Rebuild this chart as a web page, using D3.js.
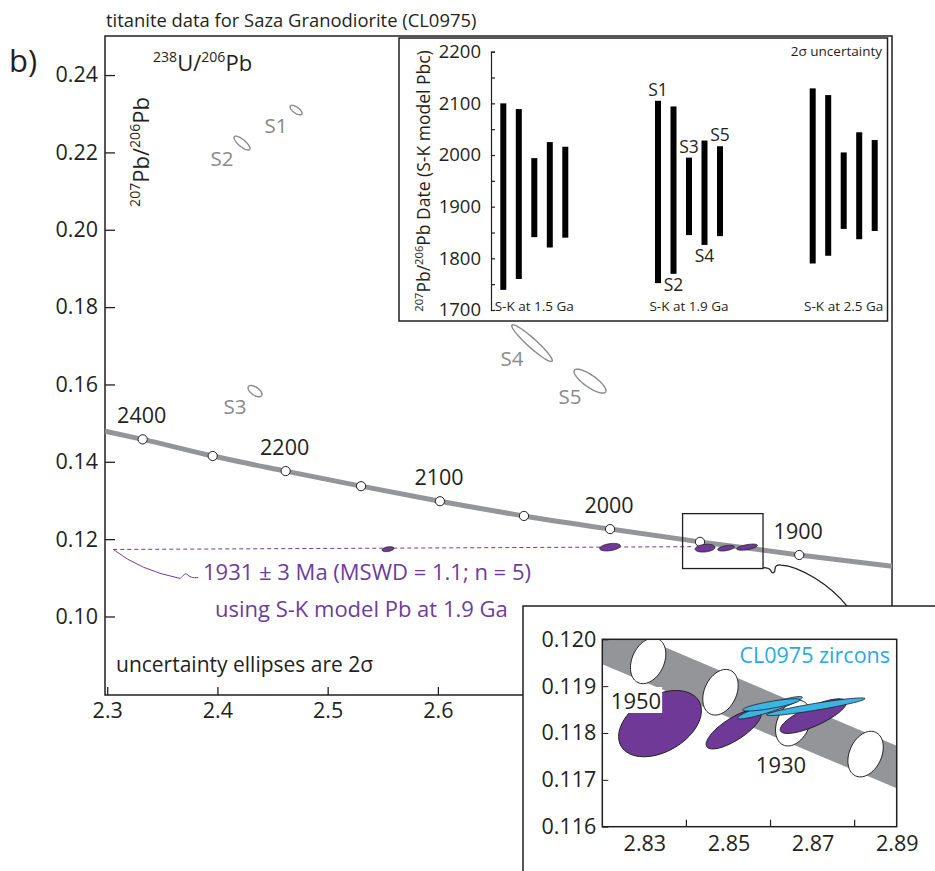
<!DOCTYPE html>
<html>
<head>
<meta charset="utf-8">
<script src="https://cdn.jsdelivr.net/npm/d3@7"></script>
<style>
  body { margin: 0; background: #fff; }
  svg { display: block; font-family: 'Open Sans', sans-serif; }
</style>
</head>
<body>
<div id="container"></div>
<script>
// ---- data ----
// (2.7 and up sit under the zoom inset, so they are not labelled)
var xTicks = [2.3, 2.4, 2.5, 2.6];
var yTicks = [0.10, 0.12, 0.14, 0.16, 0.18, 0.20, 0.22, 0.24];

// concordia age marks (Ma) and their ratios as drawn on the main plot
var concordiaAges = [2300, 2250, 2200, 2150, 2100, 2050, 2000, 1950, 1900];
var concordiaX = [2.3322, 2.3957, 2.4619, 2.5303, 2.6019, 2.6781, 2.7562, 2.8378, 2.9278];
var concordiaY = [0.1458, 0.1415, 0.1376, 0.1337, 0.1298, 0.1260, 0.1226, 0.1193, 0.1159];
var concordiaEndX = [2.298, 3.012];
var concordiaEndY = [0.1479, 0.1130];
var concordiaLabelAges = [2300, 2200, 2100, 2000, 1900];
var concordiaLabelText = ['2400', '2200', '2100', '2000', '1900'];

// uncorrected titanite analyses (grey)
var rawTitanite = [
  { id: 'S1', x: 2.4713, y: 0.23095, sx: 0.00543, sy: 0.00122, rho: -0.67 },
  { id: 'S2', x: 2.4223, y: 0.22241, sx: 0.00724, sy: 0.00180, rho: -0.78 },
  { id: 'S3', x: 2.4341, y: 0.15827, sx: 0.00630, sy: 0.00146, rho: -0.58 },
  { id: 'S4', x: 2.6854, y: 0.17069, sx: 0.01840, sy: 0.00475, rho: -0.945 },
  { id: 'S5', x: 2.7380, y: 0.16086, sx: 0.01446, sy: 0.00309, rho: -0.80 }
];

// common-Pb corrected titanite (purple), main plot
var corrTitanite = [
  { x: 2.5548, y: 0.11741, sx: 0.00537, sy: 0.000644, rho: 0.36 },
  { x: 2.7562, y: 0.11793, sx: 0.00944, sy: 0.000973, rho: 0.35 },
  { x: 2.8424, y: 0.11767, sx: 0.00903, sy: 0.00101, rho: 0.23 },
  { x: 2.8614, y: 0.11767, sx: 0.00760, sy: 0.000742, rho: 0.47 },
  { x: 2.8805, y: 0.11793, sx: 0.00939, sy: 0.000791, rho: 0.56 }
];
var isochronX = [2.3055, 2.8315];
var isochronY = [0.11733, 0.11805];
var zoomBoxX = [2.822, 2.895];
var zoomBoxY = [0.1124, 0.1266];

// zoomed inset (bottom right)
var insetXTicks = [2.83, 2.85, 2.87, 2.89];
var insetXMinor = [2.84, 2.86, 2.88];
var insetYTicks = [0.116, 0.117, 0.118, 0.119, 0.120];
var bandUpper = [[2.82, 0.12040], [2.89, 0.11773]];
var bandLower = [[2.82, 0.11947], [2.89, 0.11682]];
var insetAgeMarks = [
  { age: 1950, x: 2.8309, y: 0.11954, sx: 0.00421, sy: 0.000487, rho: 0.30 },
  { age: 1940, x: 2.8481, y: 0.11887, sx: 0.00421, sy: 0.000487, rho: 0.30 },
  { age: 1930, x: 2.8654, y: 0.11821, sx: 0.00421, sy: 0.000487, rho: 0.30 },
  { age: 1920, x: 2.8826, y: 0.11755, sx: 0.00421, sy: 0.000487, rho: 0.30 }
];
var insetTitanite = [
  { x: 2.83372, y: 0.11820, sx: 0.00984, sy: 0.000707, rho: 0.39 },
  { x: 2.85124, y: 0.11808, sx: 0.00654, sy: 0.000420, rho: 0.76 },
  { x: 2.87017, y: 0.11836, sx: 0.00787, sy: 0.000369, rho: 0.78 }
];
var zircons = [
  { x: 2.85987, y: 0.11854, sx: 0.00770, sy: 0.000239, rho: 0.92 },
  { x: 2.86018, y: 0.11860, sx: 0.00679, sy: 0.000130, rho: 0.81 },
  { x: 2.87076, y: 0.11856, sx: 0.01173, sy: 0.000189, rho: 0.92 }
];

// 207Pb/206Pb dates with S-K model common Pb (inset, top right)
var skGroups = ['S-K at 1.5 Ga', 'S-K at 1.9 Ga', 'S-K at 2.5 Ga'];
var samples = ['S1', 'S2', 'S3', 'S4', 'S5'];
var dateLow = [[1739, 1760, 1841, 1821, 1840], [1752, 1770, 1845, 1826, 1843], [1790, 1805, 1857, 1837, 1853]];
var dateHigh = [[2100, 2089, 1994, 2025, 2016], [2105, 2094, 1995, 2028, 2017], [2129, 2116, 2005, 2044, 2029]];
var dateTicks = d3.range(1700, 2201, 50);
var sampleLabelBelow = [false, true, false, true, false];

// ---- drawing ----
var ink = '#231f20', purple = '#6e3997', purpleText = '#6c3d9c', grey = '#939598', greyText = '#8a8a8a';

var svg = d3.select('#container').append('svg')
  .attr('width', 935)
  .attr('height', 871);

var x = d3.scaleLinear().domain([2.298, 3.012]).range([105, 892]);
var y = d3.scaleLinear().domain([0.0797, 0.2501]).range([695, 36]);

var ellipsePath = function(d, sx, sy) {
  var pts = d3.range(72).map(function(i) {
    var t = i / 72 * 2 * Math.PI;
    var c = Math.cos(t), s = Math.sin(t);
    return [sx(d.x + d.sx * c), sy(d.y + d.sy * (d.rho * c + Math.sqrt(1 - d.rho * d.rho) * s))];
  });
  return d3.line().curve(d3.curveLinearClosed)(pts);
};

// text with superscripts: parts starting with ^ are raised
var supText = function(sel, parts, size) {
  var shift = 0;
  parts.forEach(function(p) {
    var sup = p.charAt(0) === '^';
    var target = sup ? -size * 0.4 : 0;
    sel.append('tspan')
      .attr('font-size', sup ? size * 0.64 : size)
      .attr('dy', target - shift)
      .text(sup ? p.slice(1) : p);
    shift = target;
  });
};

var defs = svg.append('defs');
defs.append('clipPath').attr('id', 'main-clip').append('rect')
  .attr('x', 105).attr('y', 36).attr('width', 787).attr('height', 659);

svg.append('text')
  .attr('x', 106).attr('y', 27)
  .attr('font-size', 18.4)
  .attr('fill', ink)
  .text('titanite data for Saza Granodiorite (CL0975)');

svg.append('text')
  .attr('x', 9).attr('y', 72)
  .attr('font-size', 31)
  .attr('fill', ink)
  .text('b)');

// axes
var xAxis = svg.append('g')
  .attr('transform', 'translate(0,695)')
  .call(d3.axisBottom(x).tickValues(xTicks).tickSize(-8).tickPadding(8).tickFormat(d3.format('.1f')));
var yAxis = svg.append('g')
  .attr('transform', 'translate(105,0)')
  .call(d3.axisLeft(y).tickValues(yTicks).tickSize(-10).tickPadding(7).tickFormat(d3.format('.2f')));
[xAxis, yAxis].forEach(function(a) {
  a.select('.domain').remove();
  a.attr('font-family', null).attr('font-size', 21.5).attr('color', ink);
  a.selectAll('line').attr('stroke-width', 1.3);
});

svg.append('rect')
  .attr('x', 105).attr('y', 36).attr('width', 787).attr('height', 659)
  .attr('fill', 'none').attr('stroke', ink).attr('stroke-width', 1.5);

var plot = svg.append('g').attr('clip-path', 'url(#main-clip)');

// concordia
var concPts = [[concordiaEndX[0], concordiaEndY[0]]]
  .concat(concordiaX.map(function(v, i) { return [v, concordiaY[i]]; }))
  .concat([[concordiaEndX[1], concordiaEndY[1]]]);
plot.append('path')
  .attr('d', d3.line().curve(d3.curveMonotoneX).x(function(d) { return x(d[0]); }).y(function(d) { return y(d[1]); })(concPts))
  .attr('fill', 'none').attr('stroke', grey).attr('stroke-width', 5);

// isochron
plot.append('line')
  .attr('x1', x(isochronX[0])).attr('y1', y(isochronY[0]))
  .attr('x2', x(isochronX[1])).attr('y2', y(isochronY[1]))
  .attr('stroke', purpleText).attr('stroke-width', 1).attr('stroke-dasharray', '4,3');

plot.selectAll('.conc-mark')
  .data(concordiaX)
  .enter()
  .append('circle')
  .attr('class', 'conc-mark')
  .attr('cx', function(d) { return x(d); })
  .attr('cy', function(d, i) { return y(concordiaY[i]); })
  .attr('r', 4.6)
  .attr('fill', '#fff').attr('stroke', ink).attr('stroke-width', 1);

plot.selectAll('.corr')
  .data(corrTitanite)
  .enter()
  .append('path')
  .attr('class', 'corr')
  .attr('d', function(d) { return ellipsePath(d, x, y); })
  .attr('fill', purple).attr('stroke', ink).attr('stroke-width', 0.8);

plot.selectAll('.raw')
  .data(rawTitanite)
  .enter()
  .append('path')
  .attr('class', 'raw')
  .attr('d', function(d) { return ellipsePath(d, x, y); })
  .attr('fill', 'none').attr('stroke', greyText).attr('stroke-width', 1.4);

plot.selectAll('.raw-label')
  .data(rawTitanite)
  .enter()
  .append('text')
  .attr('class', 'raw-label')
  .attr('x', function(d) { return x(d.x) - 20; })
  .attr('y', function(d) { return y(d.y) + 23; })
  .attr('text-anchor', 'middle')
  .attr('font-size', 20.5)
  .attr('fill', greyText)
  .text(function(d) { return d.id; });

plot.selectAll('.conc-label')
  .data(concordiaLabelAges)
  .enter()
  .append('text')
  .attr('class', 'conc-label')
  .attr('x', function(d) { return x(concordiaX[concordiaAges.indexOf(d)]) - 1; })
  .attr('y', function(d) { return y(concordiaY[concordiaAges.indexOf(d)]) - 16; })
  .attr('text-anchor', 'middle')
  .attr('font-size', 21.5)
  .attr('fill', ink)
  .text(function(d, i) { return concordiaLabelText[i]; });

// zoom box + connector
var bx0 = x(zoomBoxX[0]), bx1 = x(zoomBoxX[1]), by0 = y(zoomBoxY[1]), by1 = y(zoomBoxY[0]);
plot.append('rect')
  .attr('x', bx0).attr('y', by0).attr('width', bx1 - bx0).attr('height', by1 - by0)
  .attr('fill', 'none').attr('stroke', ink).attr('stroke-width', 1.3);
plot.append('path')
  .attr('d', 'M' + bx1 + ',' + (by1 - 1) + ' c4,0 7,0.5 8,3.5 c1,3 4,2 4,-2 c0,-3 2,-4.5 6,-4 c19,1 49,20 66,41')
  .attr('fill', 'none').attr('stroke', ink).attr('stroke-width', 1.3);

// age annotation
var ax = x(isochronX[0]), ay = y(isochronY[0]);
plot.append('path')
  .attr('d', 'M' + ax + ',' + ay + ' q27,21 67,29 c3,-3 5,-6 7,-4 s5,4 11,3')
  .attr('fill', 'none').attr('stroke', purpleText).attr('stroke-width', 1);
svg.append('text')
  .attr('x', 203).attr('y', 580)
  .attr('font-size', 22)
  .attr('fill', purpleText)
  .text('1931 \u00b1 3 Ma (MSWD = 1.1; n = 5)');
svg.append('text')
  .attr('x', 215).attr('y', 617)
  .attr('font-size', 22)
  .attr('fill', purpleText)
  .text('using S-K model Pb at 1.9 Ga');

svg.append('text')
  .attr('x', 116).attr('y', 672)
  .attr('font-size', 21)
  .attr('fill', ink)
  .text('uncertainty ellipses are 2\u03c3');

var xt = svg.append('text').attr('x', 153).attr('y', 71).attr('fill', ink);
supText(xt, ['^238', 'U/', '^206', 'Pb'], 22);
var yt = svg.append('text').attr('transform', 'translate(149,152) rotate(-90)').attr('text-anchor', 'middle').attr('fill', ink);
supText(yt, ['^207', 'Pb/', '^206', 'Pb'], 22);

// ---- inset: 207Pb/206Pb dates ----
var dateInset = svg.append('g');
dateInset.append('rect')
  .attr('x', 399).attr('y', 38).attr('width', 488.5).attr('height', 283)
  .attr('fill', '#fff').attr('stroke', ink).attr('stroke-width', 1.5);

var dY = d3.scaleLinear().domain([1700, 2200]).range([310, 51.7]);
var gX = d3.scalePoint().domain(skGroups).range([534.3, 843.7]);
var sX = d3.scalePoint().domain(samples).range([-31, 31]);

var dAxis = dateInset.append('g')
  .attr('transform', 'translate(491,0)')
  .call(d3.axisLeft(dY).tickValues(dateTicks).tickSize(-4).tickSizeOuter(-4).tickPadding(10)
    .tickFormat(function(d) { return d % 100 === 0 ? d : ''; }));
dAxis.attr('font-family', null).attr('font-size', 18.5).attr('color', ink);
dAxis.selectAll('line, path').attr('stroke-width', 1.2);

skGroups.forEach(function(g, gi) {
  dateInset.selectAll('.bar-' + gi)
    .data(samples)
    .enter()
    .append('rect')
    .attr('class', 'bar-' + gi)
    .attr('x', function(s) { return gX(g) + sX(s) - 3; })
    .attr('y', function(s, i) { return dY(dateHigh[gi][i]); })
    .attr('width', 6)
    .attr('height', function(s, i) { return dY(dateLow[gi][i]) - dY(dateHigh[gi][i]); })
    .attr('fill', '#000');
  dateInset.append('text')
    .attr('x', gX(g)).attr('y', 311)
    .attr('text-anchor', 'middle')
    .attr('font-size', 13.5)
    .attr('fill', ink)
    .text(g);
});

dateInset.selectAll('.sample-label')
  .data(samples)
  .enter()
  .append('text')
  .attr('class', 'sample-label')
  .attr('x', function(s) { return gX(skGroups[1]) + sX(s); })
  .attr('y', function(s, i) {
    return sampleLabelBelow[i] ? dY(dateLow[1][i]) + 17 : dY(dateHigh[1][i]) - 5;
  })
  .attr('text-anchor', 'middle')
  .attr('font-size', 17.5)
  .attr('fill', ink)
  .text(function(s) { return s; });

dateInset.append('text')
  .attr('x', 882).attr('y', 56)
  .attr('text-anchor', 'end')
  .attr('font-size', 13.5)
  .attr('fill', ink)
  .text('2\u03c3 uncertainty');

var dt = dateInset.append('text').attr('transform', 'translate(430,181) rotate(-90)').attr('text-anchor', 'middle').attr('fill', ink);
supText(dt, ['^207', 'Pb/', '^206', 'Pb Date (S-K model Pbc)'], 17.5);

// ---- inset: zoom on concordia ----
var zin = svg.append('g');
zin.append('rect')
  .attr('x', 523).attr('y', 606).attr('width', 430).attr('height', 280)
  .attr('fill', '#fff').attr('stroke', ink).attr('stroke-width', 1.5);

var ix = d3.scaleLinear().domain([2.82, 2.89]).range([602.3, 896.7]);
var iy = d3.scaleLinear().domain([0.116, 0.120]).range([826.7, 639.3]);

defs.append('clipPath').attr('id', 'inset-clip').append('rect')
  .attr('x', 602.3).attr('y', 639.3).attr('width', 294.4).attr('height', 187.4);

var ip = zin.append('g').attr('clip-path', 'url(#inset-clip)');
var band = bandUpper.concat(bandLower.slice().reverse());
ip.append('path')
  .attr('d', d3.line().x(function(d) { return ix(d[0]); }).y(function(d) { return iy(d[1]); })(band) + 'Z')
  .attr('fill', grey);

ip.selectAll('.age-mark')
  .data(insetAgeMarks)
  .enter()
  .append('path')
  .attr('class', 'age-mark')
  .attr('d', function(d) { return ellipsePath(d, ix, iy); })
  .attr('fill', '#fff').attr('stroke', ink).attr('stroke-width', 1);

ip.selectAll('.ins-tit')
  .data(insetTitanite)
  .enter()
  .append('path')
  .attr('class', 'ins-tit')
  .attr('d', function(d) { return ellipsePath(d, ix, iy); })
  .attr('fill', purple).attr('stroke', ink).attr('stroke-width', 1);

ip.selectAll('.zircon')
  .data(zircons)
  .enter()
  .append('path')
  .attr('class', 'zircon')
  .attr('d', function(d) { return ellipsePath(d, ix, iy); })
  .attr('fill', '#3bb3e3').attr('stroke', ink).attr('stroke-width', 0.8);

var lab1950 = zin.append('text')
  .attr('x', 636).attr('y', 709)
  .attr('text-anchor', 'middle')
  .attr('font-size', 22)
  .attr('fill', ink)
  .text('1950');
var bb = lab1950.node().getBBox();
zin.insert('rect', 'text')
  .attr('x', bb.x - 1).attr('y', bb.y + 2).attr('width', bb.width + 2).attr('height', bb.height - 4)
  .attr('fill', '#fff');

zin.append('text')
  .attr('x', 781).attr('y', 773)
  .attr('text-anchor', 'middle')
  .attr('font-size', 22)
  .attr('fill', ink)
  .text('1930');

zin.append('text')
  .attr('x', 890).attr('y', 663)
  .attr('text-anchor', 'end')
  .attr('font-size', 21.5)
  .attr('fill', '#2aa9e0')
  .text('CL0975 zircons');

zin.append('rect')
  .attr('x', 602.3).attr('y', 639.3).attr('width', 294.4).attr('height', 187.4)
  .attr('fill', 'none').attr('stroke', ink).attr('stroke-width', 1.5);

var ixAxis = zin.append('g')
  .attr('transform', 'translate(0,826.7)')
  .call(d3.axisBottom(ix).tickValues(insetXTicks).tickSize(0).tickPadding(9).tickFormat(d3.format('.2f')));
zin.selectAll('.minor-x')
  .data(insetXMinor)
  .enter()
  .append('line')
  .attr('class', 'minor-x')
  .attr('x1', function(d) { return ix(d); }).attr('x2', function(d) { return ix(d); })
  .attr('y1', 826.7).attr('y2', 819.7)
  .attr('stroke', ink).attr('stroke-width', 1.2);
var iyAxis = zin.append('g')
  .attr('transform', 'translate(602.3,0)')
  .call(d3.axisLeft(iy).tickValues(insetYTicks).tickSize(-6).tickPadding(6).tickFormat(d3.format('.3f')));
[ixAxis, iyAxis].forEach(function(a) {
  a.select('.domain').remove();
  a.attr('font-family', null).attr('font-size', 21.5).attr('color', ink);
});
</script>
</body>
</html>
